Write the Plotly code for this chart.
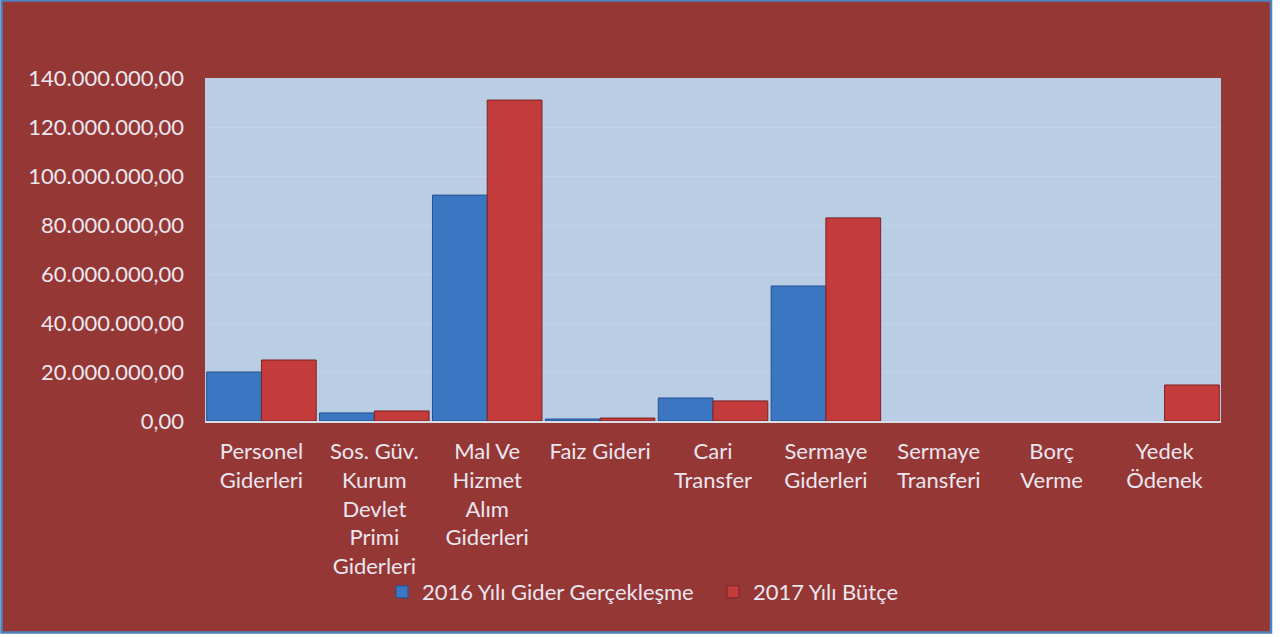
import plotly.graph_objects as go

categories = [
    "Personel<br>Giderleri",
    "Sos. Güv.<br>Kurum<br>Devlet<br>Primi<br>Giderleri",
    "Mal Ve<br>Hizmet<br>Alım<br>Giderleri",
    "Faiz Gideri",
    "Cari<br>Transfer",
    "Sermaye<br>Giderleri",
    "Sermaye<br>Transferi",
    "Borç<br>Verme",
    "Yedek<br>Ödenek",
]
gider_2016 = [20000000, 3300000, 92200000, 800000, 9400000, 55100000, 0, 0, 0]
butce_2017 = [24900000, 4100000, 131000000, 1200000, 8200000, 82900000, 0, 0, 14700000]
series_names = ["2016 Yılı Gider Gerçekleşme", "2017 Yılı Bütçe"]
y_ticks = [0, 20000000, 40000000, 60000000, 80000000, 100000000, 120000000, 140000000]

W, H = 1284, 637
L, R, T, B = 205, 63, 78, 216
pw, ph = W - L - R, H - T - B

def px(p):
    return (p - L) / pw

def py(q):
    return (H - B - q) / ph

TXT = "#ebe6ef"
FONT = "Lato"
FS = 22

def edge_widths(vals):
    return [1 if v > 0 else 0 for v in vals]

fig = go.Figure()
fig.add_trace(go.Bar(
    x=categories, y=gider_2016, name=series_names[0],
    marker=dict(color="#3b76c2", line=dict(color="#24528f", width=edge_widths(gider_2016))),
))
fig.add_trace(go.Bar(
    x=categories, y=butce_2017, name=series_names[1],
    marker=dict(color="#c33b3b", line=dict(color="#7e2222", width=edge_widths(butce_2017))),
))

fig.update_layout(
    width=W, height=H,
    margin=dict(l=L, r=R, t=T, b=B, pad=0),
    paper_bgcolor="white",
    plot_bgcolor="rgba(0,0,0,0)",
    separators=",.",
    barmode="group", bargap=0.03, bargroupgap=0,
    font=dict(family=FONT, size=FS, color=TXT),
    showlegend=True,
    legend=dict(orientation="h", x=px(713), xanchor="center", y=py(592), yanchor="middle",
                font=dict(size=FS, color=TXT), bgcolor="rgba(0,0,0,0)", itemwidth=30,
                entrywidth=286),
    shapes=[
        dict(type="rect", xref="paper", yref="paper", x0=px(1.5), x1=px(1271), y0=py(632.5), y1=py(0.5),
             fillcolor="#953735", line=dict(color="#4f81bd", width=2.5), layer="below"),
        dict(type="rect", xref="paper", yref="paper", x0=0, x1=1, y0=0, y1=1,
             fillcolor="#b9cde5", line=dict(width=0), layer="below"),
    ],
)
fig.update_xaxes(
    tickfont=dict(size=FS, color=TXT, family=FONT), showline=True, linecolor="#d8dde6", linewidth=2,
    ticks="", showgrid=False, ticklabelstandoff=10,
)
fig.update_yaxes(
    range=[0, 140000000], tickvals=y_ticks, tickformat=",.2f",
    tickfont=dict(size=FS, color=TXT, family=FONT), showgrid=True, gridcolor="#c3d4e9", gridwidth=1,
    zeroline=False, showline=False, ticks="", ticklabelstandoff=20,
)

fig.write_html("out.html", config={"displayModeBar": False},
               post_script="document.body.style.margin='0';")
